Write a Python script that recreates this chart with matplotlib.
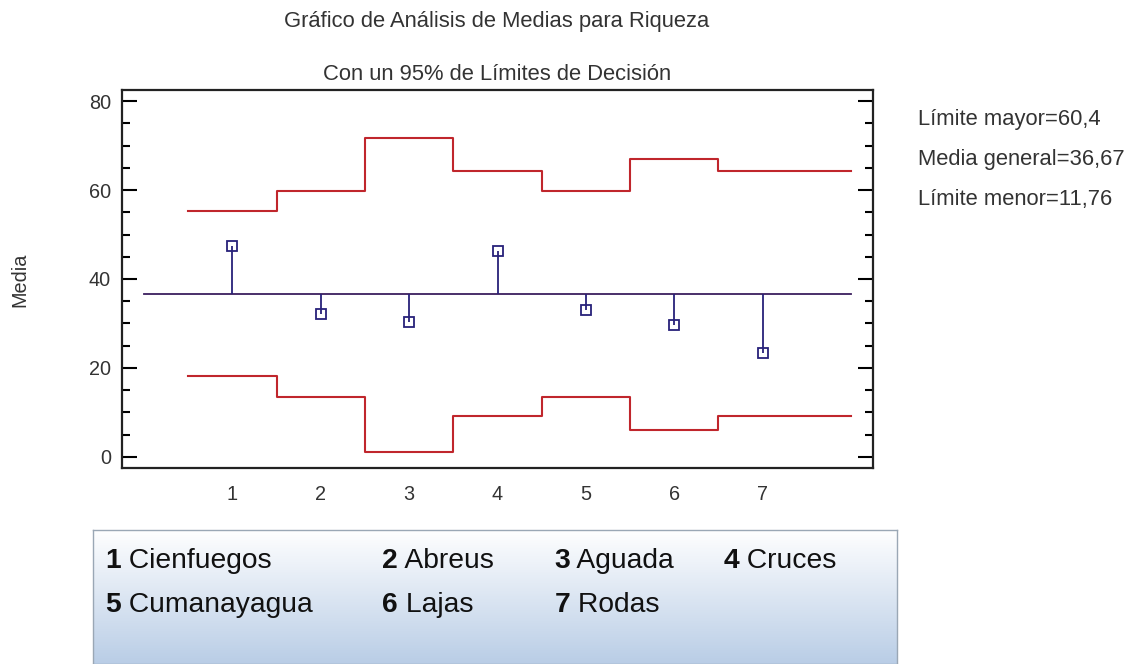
import numpy as np
import matplotlib
matplotlib.use("Agg")
import matplotlib.pyplot as plt
from matplotlib.ticker import MultipleLocator
from matplotlib.colors import LinearSegmentedColormap

plt.rcParams['font.family'] = ['Liberation Sans', 'DejaVu Sans']

groups = [1, 2, 3, 4, 5, 6, 7]
means = [47.4, 32.1, 30.4, 46.2, 33.1, 29.7, 23.4]
upper = [55.2, 59.7, 71.8, 64.2, 59.7, 67.0, 64.3]
lower = [18.2, 13.4, 1.1, 9.3, 13.4, 6.0, 9.3]
grand_mean = 36.67
yticks = [0, 20, 40, 60, 80]
names = ["Cienfuegos", "Abreus", "Aguada", "Cruces", "Cumanayagua", "Lajas", "Rodas"]
title1 = "Gráfico de Análisis de Medias para Riqueza"
title2 = "Con un 95% de Límites de Decisión"
side_texts = ["Límite mayor=60,4", "Media general=36,67", "Límite menor=11,76"]

fig = plt.figure(figsize=(11.31, 6.64), dpi=100)
ax = fig.add_axes([0.1079, 0.2952, 0.664, 0.5693])

red = "#c0262c"
navy = "#27217a"
center_col = "#3b1f5e"
txt = "#333333"

xs, ups, los = [], [], []
for g, u, l in zip(groups, upper, lower):
    xs += [g - 0.5, g + 0.5]
    ups += [u, u]
    los += [l, l]
xs[-1] = groups[-1] + 1.0
ax.plot(xs, ups, color=red, lw=1.5)
ax.plot(xs, los, color=red, lw=1.5)
ax.plot([0, groups[-1] + 1.0], [grand_mean, grand_mean], color=center_col, lw=1.3)
ax.vlines(groups, grand_mean, means, color=navy, lw=1.3)
ax.plot(groups, means, linestyle='none', marker='s', markersize=6.5,
        markerfacecolor='none', markeredgecolor=navy, markeredgewidth=1.3)

ax.set_xlim(-0.25, 8.25)
ax.set_ylim(-2.5, 82.5)
ax.set_xticks(groups)
ax.set_yticks(yticks)
ax.yaxis.set_minor_locator(MultipleLocator(5))
ax.tick_params(axis='y', which='major', direction='in', length=11, width=1.5,
               right=True, labelsize=14.3, labelcolor=txt, pad=8)
ax.tick_params(axis='y', which='minor', direction='in', length=6, width=1.5, right=True)
ax.tick_params(axis='x', which='both', length=0, labelsize=14.3, labelcolor=txt, pad=12)
for s in ax.spines.values():
    s.set_linewidth(1.6)
    s.set_color('#222222')

fig.text(20 / 1131, 1 - 280 / 664, "Media", rotation=90, ha='center', va='center',
         fontsize=14.3, color=txt)

fig.text(0.4395, 1 - 22 / 664, title1, ha='center', va='center', fontsize=15.8, color=txt)
fig.text(0.4395, 1 - 75 / 664, title2, ha='center', va='center', fontsize=15.8, color=txt)
for i, t in enumerate(side_texts):
    fig.text(918 / 1131, 1 - (120 + 40 * i) / 664, t, ha='left', va='center',
             fontsize=15.8, color=txt)

lax = fig.add_axes([0.0822, 0.0, 0.711, 0.202])
grad = np.linspace(0, 1, 256).reshape(-1, 1)
cmap = LinearSegmentedColormap.from_list("g", ["#ffffff", "#b9cde6"])
lax.imshow(grad, aspect='auto', cmap=cmap, extent=[0, 1, 0, 1], origin='upper')
lax.set_xlim(0, 1)
lax.set_ylim(0, 1)
lax.set_xticks([])
lax.set_yticks([])
for s in lax.spines.values():
    s.set_color('#9aa7b5')
    s.set_linewidth(1.0)

col_x = [0.015, 0.36, 0.574, 0.784]
row_y = [0.77, 0.44]
for i, name in enumerate(names):
    r, c = divmod(i, 4)
    t = lax.text(col_x[c], row_y[r], f"{groups[i]}", fontsize=20.3, fontweight='bold',
                 ha='left', va='center', color='#111111', transform=lax.transAxes)
    lax.annotate(" " + name, xy=(1, 0.5), xycoords=t, ha='left', va='center',
                 fontsize=20.3, color='#111111')

fig.savefig("out.png", dpi=100)
